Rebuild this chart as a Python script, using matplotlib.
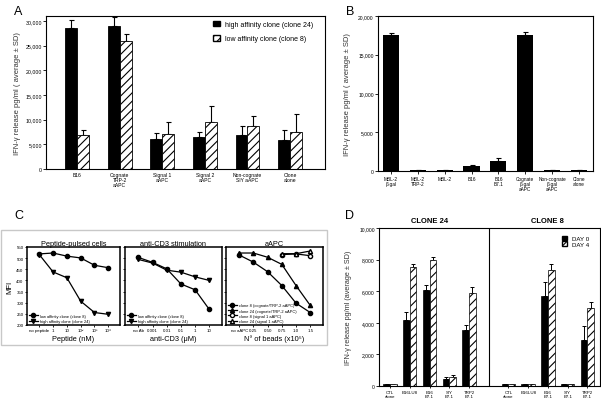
import matplotlib
matplotlib.use("Agg")
import matplotlib.pyplot as plt
import numpy as np
from matplotlib.patches import Rectangle

plt.rcParams["font.family"] = ["Liberation Sans", "DejaVu Sans"]
plt.rcParams["hatch.linewidth"] = 0.8

W, H = 601, 402

# ---- panel A data ----
a_categories = ["B16", "Cognate\nTRP-2\naAPC", "Signal 1\naAPC", "Signal 2\naAPC",
                "Non-cognate\nSIY aAPC", "Clone\nalone"]
a_high_mean = [28600, 28900, 6000, 6400, 6950, 5870]
a_high_sd = [1600, 1850, 1300, 1000, 1690, 2030]
a_low_mean = [6900, 26000, 7000, 9450, 8640, 7550]
a_low_sd = [1000, 1300, 2600, 3250, 2030, 3550]
a_yticks = [0, 5000, 10000, 15000, 20000, 25000, 30000]

# ---- panel B data ----
b_categories = ["MBL-2\nβ-gal", "MBL-2\nTRP-2", "MBL-2", "B16", "B16\nB7.1",
                "Cognate\nβ-gal\naAPC", "Non-cognate\nβ-gal\naAPC", "Clone\nalone"]
b_mean = [17500, 100, 100, 650, 1300, 17500, 100, 100]
b_sd = [300, 40, 30, 80, 430, 400, 30, 30]
b_yticks = [0, 5000, 10000, 15000, 20000]

# ---- panel C data ----
c1_ticks = ["no peptide", "1", "10", "10²", "10³", "10⁴"]
c1_clone8 = [519, 523, 509, 501, 468, 457]
c1_clone24 = [516, 438, 412, 307, 256, 248]
c2_ticks = ["no Ab", "0.001", "0.01", "0.1", "1", "10"]
c2_clone8 = [503, 481, 452, 384, 358, 270]
c2_clone24 = [494, 478, 446, 437, 416, 400]
c3_ticks = ["no aAPC", "0.25", "0.50", "0.75", "1.0", "1.5"]
c3_clone8_cog = [514, 482, 439, 377, 298, 256]
c3_clone24_cog = [523, 523, 504, 472, 377, 288]
c3_clone8_sig1 = [516, 519, 511]
c3_clone24_sig1 = [520, 520, 532]
c_yticks = [200, 250, 300, 350, 400, 450, 500, 550]

# ---- panel D data ----
d_categories = ["CTL\nalone", "B16LU8", "B16\nB7.1", "SIY\nB7.1", "TRP2\nB7.1"]
d_c24_day0 = [100, 4150, 6100, 460, 3560]
d_c24_day0_sd = [20, 540, 300, 110, 330]
d_c24_day4 = [100, 7520, 8000, 570, 5915]
d_c24_day4_sd = [20, 200, 150, 100, 375]
d_c8_day0 = [100, 100, 5690, 100, 2880]
d_c8_day0_sd = [20, 20, 880, 20, 890]
d_c8_day4 = [100, 100, 7350, 100, 4950]
d_c8_day4_sd = [20, 20, 375, 20, 395]
d_yticks = [0, 2000, 4000, 6000, 8000, 10000]

YLABEL = "IFN-γ release pg/ml ( average ± SD)"


def px_axes(fig, left, top, right, bottom):
    return fig.add_axes([left / W, 1 - bottom / H, (right - left) / W, (bottom - top) / H])


def up_err(ax, x, y, sd, cap=1.8, lw=0.8):
    sd = np.asarray(sd)
    ax.errorbar(x, y, yerr=[np.zeros_like(sd), sd], fmt="none", ecolor="black",
                elinewidth=lw, capsize=cap, capthick=lw, zorder=1)


def thousands(ax, ticks):
    ax.set_yticks(ticks)
    ax.set_yticklabels([f"{t:,}" for t in ticks])


fig = plt.figure(figsize=(W / 100, H / 100), dpi=100)

# ================= A =================
ax = px_axes(fig, 46, 17, 325, 170)
x = np.arange(len(a_categories))
bw = 0.28
ax.bar(x - bw / 2, a_high_mean, bw, color="black", edgecolor="black", lw=0.6, zorder=2)
ax.bar(x + bw / 2, a_low_mean, bw, color="white", edgecolor="black", hatch="////",
       lw=0.6, zorder=2)
up_err(ax, x - bw / 2, a_high_mean, a_high_sd)
up_err(ax, x + bw / 2, a_low_mean, a_low_sd)
ax.set_xlim(-0.73, 5.82)
ax.set_ylim(0, 31000)
thousands(ax, a_yticks)
ax.set_xticks(x)
ax.set_xticklabels(a_categories, fontsize=3.6, linespacing=1.0)
ax.tick_params(axis="y", labelsize=3.8, length=2, width=0.6, pad=1)
ax.tick_params(axis="x", length=0, pad=2)
ax.set_ylabel(YLABEL, fontsize=5.5, color="#333333", labelpad=3)
for s in ax.spines.values():
    s.set_linewidth(0.8)
handles = [Rectangle((0, 0), 1, 1, fc="black", ec="black"),
           Rectangle((0, 0), 1, 1, fc="white", ec="black", hatch="////")]
ax.legend(handles, ["high affinity clone (clone 24)", "low affinity clone (clone 8)"],
          loc="upper left", bbox_to_anchor=(0.6, 0.97), frameon=False, fontsize=5,
          handlelength=0.9, handleheight=0.9, labelspacing=1.0, borderpad=0,
          borderaxespad=0, handletextpad=0.8)
fig.text(14 / W, 1 - 12 / H, "A", fontsize=9, va="center")

# ================= B =================
ax = px_axes(fig, 378, 17, 593, 172)
x = np.arange(len(b_categories))
ax.bar(x, b_mean, 0.6, color="black", zorder=2)
up_err(ax, x, b_mean, b_sd)
ax.set_xlim(-0.48, 7.52)
ax.set_ylim(0, 20000)
thousands(ax, b_yticks)
ax.set_xticks(x)
ax.set_xticklabels(b_categories, fontsize=3.4, linespacing=1.0)
ax.tick_params(axis="y", labelsize=3.6, length=2, width=0.6, pad=1)
ax.tick_params(axis="x", length=2, width=0.6, pad=1.5)
ax.set_ylabel(YLABEL, fontsize=5.5, color="#333333", labelpad=5)
for s in ax.spines.values():
    s.set_linewidth(0.8)
fig.text(346 / W, 1 - 12 / H, "B", fontsize=9, va="center")

# ================= C =================
fig.patches.append(Rectangle((1 / W, 1 - 346 / H), 326 / W, 115 / H,
                             transform=fig.transFigure, fill=False,
                             ec="#c8c8c8", lw=1.0))
fig.text(14 / W, 1 - 216 / H, "C", fontsize=9, va="center")

c_boxes = [(27, 120), (125, 222), (226, 323)]
c_titles = ["Peptide-pulsed cells", "anti-CD3 stimulation", "aAPC"]
c_xlabels = ["Peptide (nM)", "anti-CD3 (μM)", "N° of beads (x10⁵)"]
c_ticklabels = [c1_ticks, c2_ticks, c3_ticks]
c_xlims = [(-0.89, 5.85), (-0.95, 5.9), (-0.93, 5.9)]
for i, (l, r) in enumerate(c_boxes):
    ax = px_axes(fig, l, 248, r, 326)
    pos = np.arange(6)
    if i == 0:
        ax.plot(pos, c1_clone8, "-o", color="black", ms=3, lw=0.9,
                label="low affinity clone (clone 8)")
        ax.plot(pos, c1_clone24, "-v", color="black", ms=3, lw=0.9,
                label="high affinity clone (clone 24)")
    elif i == 1:
        ax.plot(pos, c2_clone8, "-o", color="black", ms=3, lw=0.9,
                label="low affinity clone (clone 8)")
        ax.plot(pos, c2_clone24, "-v", color="black", ms=3, lw=0.9,
                label="high affinity clone (clone 24)")
    else:
        ax.plot(pos, c3_clone8_cog, "-o", color="black", ms=3, lw=0.9,
                label="clone 8 (cognate/TRP-2 aAPC)")
        ax.plot(pos, c3_clone24_cog, "-^", color="black", ms=3, lw=0.9,
                label="clone 24 (cognate/TRP-2 aAPC)")
        ax.plot(pos[3:], c3_clone8_sig1, "-o", color="black", mfc="white", ms=3,
                lw=0.9, label="clone 8 (signal 1 aAPC)")
        ax.plot(pos[3:], c3_clone24_sig1, "-^", color="black", mfc="white", ms=3,
                lw=0.9, label="clone 24 (signal 1 aAPC)")
    ax.set_xlim(*c_xlims[i])
    ax.set_ylim(200, 550)
    ax.set_yticks(c_yticks)
    ax.set_xticks(pos)
    ax.set_xticklabels(c_ticklabels[i], fontsize=3.2)
    ax.tick_params(axis="both", length=1.5, width=0.6, pad=1, labelsize=3.2)
    if i > 0:
        ax.set_yticklabels([])
    else:
        ax.set_ylabel("MFI", fontsize=5.5, labelpad=2)
    ax.set_title(c_titles[i], fontsize=5.3, pad=1.5)
    ax.set_xlabel(c_xlabels[i], fontsize=5.3, labelpad=1.5)
    for s in ax.spines.values():
        s.set_linewidth(1.1)
    ax.legend(loc="lower left", frameon=False, fontsize=2.9, handlelength=2.2,
              labelspacing=0.3, borderpad=0.2, borderaxespad=0.3, handletextpad=0.6)

# ================= D =================
ax = px_axes(fig, 379, 229, 600, 387)
x24 = np.arange(5)
x8 = np.arange(5) + 6
bw = 0.34
ax.bar(x24 - bw / 2, d_c24_day0, bw, color="black", edgecolor="black", lw=0.5, zorder=2)
ax.bar(x24 + bw / 2, d_c24_day4, bw, color="white", edgecolor="black", hatch="////",
       lw=0.5, zorder=2)
ax.bar(x8 - bw / 2, d_c8_day0, bw, color="black", edgecolor="black", lw=0.5, zorder=2)
ax.bar(x8 + bw / 2, d_c8_day4, bw, color="white", edgecolor="black", hatch="////",
       lw=0.5, zorder=2)
up_err(ax, x24 - bw / 2, d_c24_day0, d_c24_day0_sd, cap=1.3, lw=0.7)
up_err(ax, x24 + bw / 2, d_c24_day4, d_c24_day4_sd, cap=1.3, lw=0.7)
up_err(ax, x8 - bw / 2, d_c8_day0, d_c8_day0_sd, cap=1.3, lw=0.7)
up_err(ax, x8 + bw / 2, d_c8_day4, d_c8_day4_sd, cap=1.3, lw=0.7)
ax.axvline(5, color="black", lw=0.8)
ax.set_xlim(-0.56, 10.64)
ax.set_ylim(0, 10000)
thousands(ax, d_yticks)
ax.set_xticks(np.concatenate([x24, x8]))
ax.set_xticklabels(d_categories * 2, fontsize=3.2, linespacing=1.0)
ax.tick_params(axis="y", labelsize=3.6, length=2, width=0.6, pad=1)
ax.tick_params(axis="x", length=1.5, width=0.6, pad=1.5)
ax.set_ylabel("IFN-γ release pg/ml (average ± SD)", fontsize=5.2, color="#333333",
              labelpad=5)
for s in ax.spines.values():
    s.set_linewidth(0.8)
ax.text(2, 10250, "CLONE 24", ha="center", va="bottom", fontsize=5.5, fontweight="bold")
ax.text(8, 10250, "CLONE 8", ha="center", va="bottom", fontsize=5.5, fontweight="bold")
handles = [Rectangle((0, 0), 1, 1, fc="black", ec="black"),
           Rectangle((0, 0), 1, 1, fc="white", ec="black", hatch="////")]
ax.legend(handles, ["DAY 0", "DAY 4"], loc="upper left", bbox_to_anchor=(0.83, 0.95),
          frameon=False, fontsize=4.4, handlelength=0.7, handleheight=0.7,
          labelspacing=0.05, borderpad=0, borderaxespad=0, handletextpad=0.8)
fig.text(345 / W, 1 - 216 / H, "D", fontsize=9, va="center")

fig.savefig("out.png", dpi=100)
